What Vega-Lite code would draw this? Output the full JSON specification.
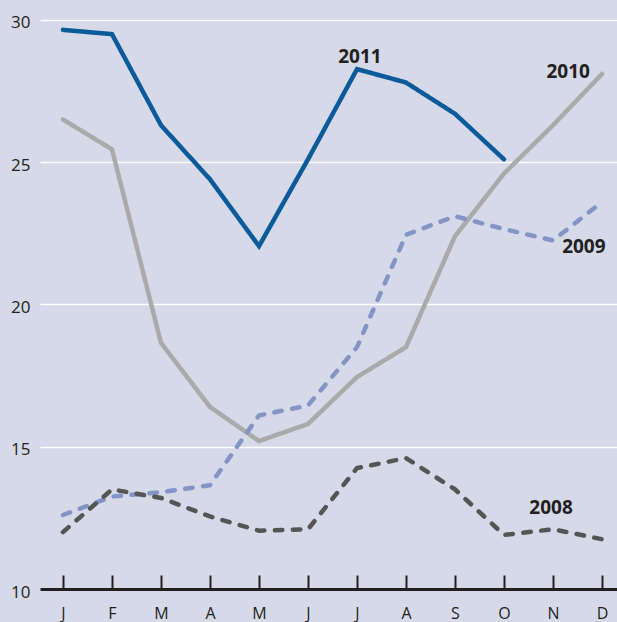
{
  "$schema": "https://vega.github.io/schema/vega-lite/v6.json",
  "autosize": "none",
  "width": 577,
  "height": 589,
  "padding": {"left": 40, "top": 0, "right": 0, "bottom": 33},
  "background": "#d5d9e8",
  "config": {"view": {"stroke": null, "fill": "#d5d9e8"}, "font": "Open Sans"},
  "datasets": {
    "series": [
      {"month": 1, "value": 29.65, "year": "2011"},
      {"month": 2, "value": 29.5, "year": "2011"},
      {"month": 3, "value": 26.3, "year": "2011"},
      {"month": 4, "value": 24.4, "year": "2011"},
      {"month": 5, "value": 22.05, "year": "2011"},
      {"month": 6, "value": 25.1, "year": "2011"},
      {"month": 7, "value": 28.27, "year": "2011"},
      {"month": 8, "value": 27.8, "year": "2011"},
      {"month": 9, "value": 26.7, "year": "2011"},
      {"month": 10, "value": 25.1, "year": "2011"},
      {"month": 1, "value": 26.5, "year": "2010"},
      {"month": 2, "value": 25.45, "year": "2010"},
      {"month": 3, "value": 18.65, "year": "2010"},
      {"month": 4, "value": 16.4, "year": "2010"},
      {"month": 5, "value": 15.2, "year": "2010"},
      {"month": 6, "value": 15.8, "year": "2010"},
      {"month": 7, "value": 17.45, "year": "2010"},
      {"month": 8, "value": 18.5, "year": "2010"},
      {"month": 9, "value": 22.4, "year": "2010"},
      {"month": 10, "value": 24.6, "year": "2010"},
      {"month": 11, "value": 26.3, "year": "2010"},
      {"month": 12, "value": 28.1, "year": "2010"},
      {"month": 1, "value": 12.6, "year": "2009"},
      {"month": 2, "value": 13.25, "year": "2009"},
      {"month": 3, "value": 13.4, "year": "2009"},
      {"month": 4, "value": 13.65, "year": "2009"},
      {"month": 5, "value": 16.1, "year": "2009"},
      {"month": 6, "value": 16.45, "year": "2009"},
      {"month": 7, "value": 18.5, "year": "2009"},
      {"month": 8, "value": 22.45, "year": "2009"},
      {"month": 9, "value": 23.1, "year": "2009"},
      {"month": 10, "value": 22.65, "year": "2009"},
      {"month": 11, "value": 22.25, "year": "2009"},
      {"month": 12, "value": 23.6, "year": "2009"},
      {"month": 1, "value": 12.0, "year": "2008"},
      {"month": 2, "value": 13.5, "year": "2008"},
      {"month": 3, "value": 13.2, "year": "2008"},
      {"month": 4, "value": 12.55, "year": "2008"},
      {"month": 5, "value": 12.05, "year": "2008"},
      {"month": 6, "value": 12.1, "year": "2008"},
      {"month": 7, "value": 14.25, "year": "2008"},
      {"month": 8, "value": 14.6, "year": "2008"},
      {"month": 9, "value": 13.5, "year": "2008"},
      {"month": 10, "value": 11.9, "year": "2008"},
      {"month": 11, "value": 12.1, "year": "2008"},
      {"month": 12, "value": 11.75, "year": "2008"}
    ],
    "labels": [
      {"month": 7.06, "value": 28.69, "year": "2011"},
      {"month": 11.31, "value": 28.17, "year": "2010"},
      {"month": 11.63, "value": 22.02, "year": "2009"},
      {"month": 10.96, "value": 12.85, "year": "2008"}
    ]
  },
  "layer": [
    {
      "data": {"name": "series"},
      "mark": {"type": "line", "strokeWidth": 4.5, "strokeCap": "round"},
      "encoding": {
        "x": {
          "field": "month", "type": "quantitative",
          "scale": {"domain": [0.531, 12.306], "nice": false, "zero": false},
          "axis": {
            "values": [1,2,3,4,5,6,7,8,9,10,11,12],
            "labelExpr": "['J','F','M','A','M','J','J','A','S','O','N','D'][datum.value-1]",
            "title": null, "grid": false,
            "domainColor": "#231f20", "domainWidth": 3,
            "tickColor": "#231f20", "tickWidth": 2, "tickSize": -14,
            "labelFontSize": 16, "labelColor": "#231f20", "labelPadding": 30,
            "labelFont": "Open Sans"
          }
        },
        "y": {
          "field": "value", "type": "quantitative",
          "scale": {"domain": [10, 30.7], "nice": false, "zero": false},
          "axis": {
            "values": [10, 15, 20, 25, 30],
            "title": null, "domain": false, "ticks": false,
            "grid": true, "gridColor": "#ffffff", "gridWidth": 1.5,
            "labelFontSize": 17, "labelColor": "#231f20", "labelPadding": 10,
            "labelOffset": 3,
            "labelFont": "Open Sans"
          }
        },
        "color": {
          "field": "year", "type": "nominal", "legend": null,
          "scale": {"domain": ["2008", "2009", "2010", "2011"], "range": ["#555555", "#8494c4", "#aaaaaa", "#0b5a9a"]}
        },
        "strokeDash": {
          "field": "year", "type": "nominal", "legend": null,
          "scale": {"domain": ["2008", "2009", "2010", "2011"], "range": [[7.5, 10.5], [7.5, 10.5], [1, 0], [1, 0]]}
        }
      }
    },
    {
      "data": {"name": "labels"},
      "mark": {"type": "text", "fontSize": 19, "fontWeight": "bold", "font": "Open Sans", "color": "#231f20", "align": "center", "baseline": "middle"},
      "encoding": {
        "x": {"field": "month", "type": "quantitative"},
        "y": {"field": "value", "type": "quantitative"},
        "text": {"field": "year", "type": "nominal"}
      }
    }
  ]
}
